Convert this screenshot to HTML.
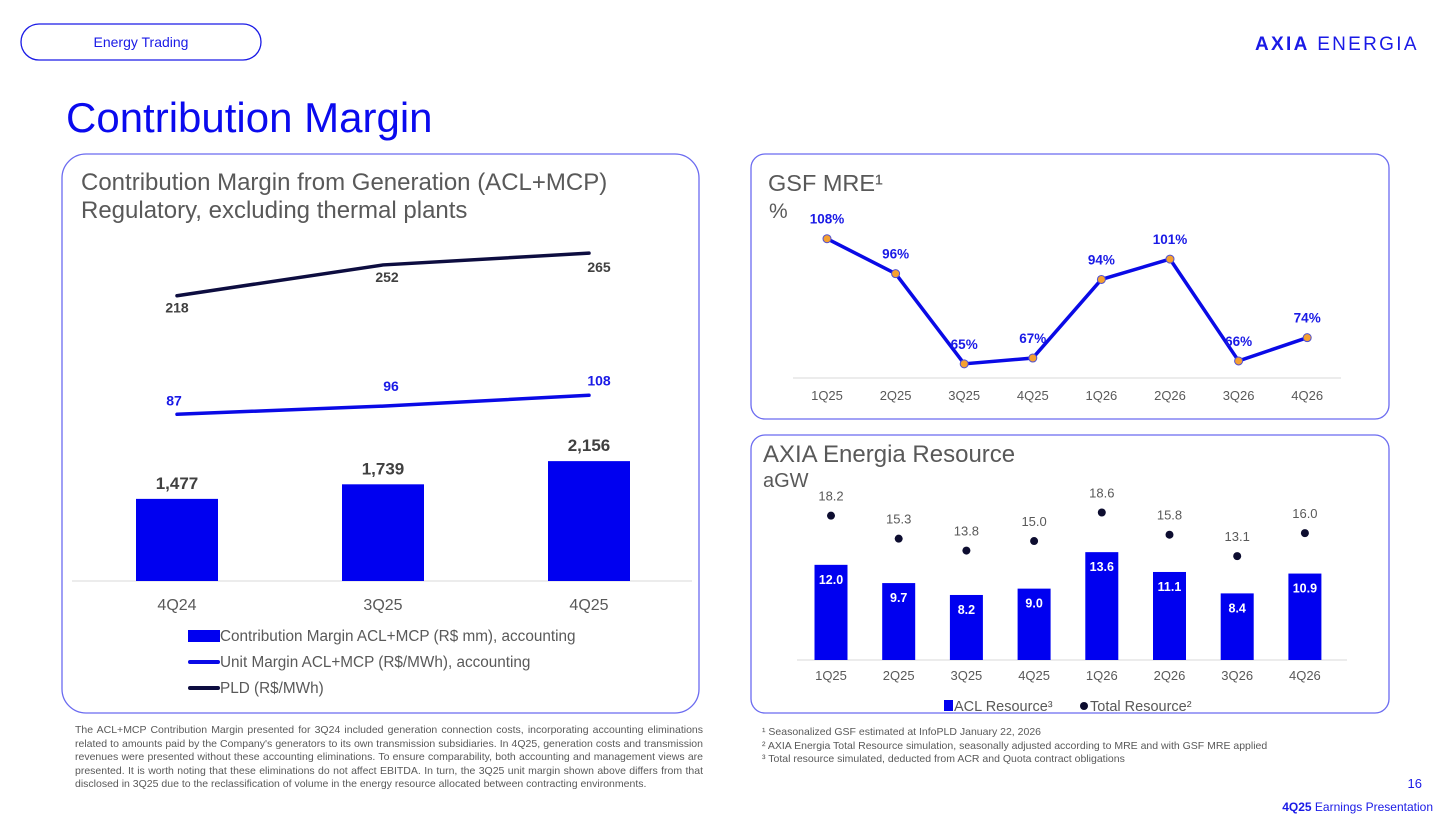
<!DOCTYPE html>
<html><head><meta charset="utf-8">
<style>
body{margin:0;width:1455px;height:816px;background:#fff;position:relative;overflow:hidden;font-family:"Liberation Sans",sans-serif;}
.abs{position:absolute;}
.fn{font-size:10.5px;color:#595959;line-height:13.6px;}
</style></head>
<body>
<svg class="abs" style="left:0;top:0" width="1455" height="816">
  <rect x="21" y="24" width="240" height="36" rx="18" fill="none" stroke="#1a1ae6" stroke-width="1.3"/>
  <text x="141" y="47" font-size="14" fill="#1a1ae6" text-anchor="middle">Energy Trading</text>
  <text x="1255" y="50" font-size="19" fill="#1a1ae6" letter-spacing="2.3"><tspan font-weight="bold">AXIA</tspan> ENERGIA</text>
  <text x="66" y="132" font-size="42" fill="#0a0aee">Contribution Margin</text>

  <rect x="62" y="154" width="637" height="559" rx="24" fill="none" stroke="#6b6bf0" stroke-width="1.3"/>
  <text x="81" y="190" font-size="24" fill="#595959">Contribution Margin from Generation (ACL+MCP)</text>
  <text x="81" y="218" font-size="24" fill="#595959">Regulatory, excluding thermal plants</text>
  <g id="left"></g>

  <rect x="751" y="154" width="638" height="265" rx="14" fill="none" stroke="#6b6bf0" stroke-width="1.3"/>
  <text x="768" y="191" font-size="23.5" fill="#595959">GSF MRE¹</text>
  <text x="769" y="218" font-size="21" fill="#595959">%</text>
  <g id="gsf"></g>

  <rect x="751" y="435" width="638" height="278" rx="14" fill="none" stroke="#6b6bf0" stroke-width="1.3"/>
  <text x="763" y="462" font-size="24" fill="#595959">AXIA Energia Resource</text>
  <text x="763" y="487" font-size="20" fill="#595959">aGW</text>
  <g id="res"></g>

  <text x="1422" y="788" font-size="13" fill="#1a1ae6" text-anchor="end">16</text>
  <text x="1433" y="811" font-size="12" fill="#1a1ae6" text-anchor="end"><tspan font-weight="bold">4Q25</tspan> Earnings Presentation</text>
</svg>
<div class="abs fn" style="left:75px;top:724px;width:628px;text-align:justify;">The ACL+MCP Contribution Margin presented for 3Q24 included generation connection costs, incorporating accounting eliminations related to amounts paid by the Company's generators to its own transmission subsidiaries. In 4Q25, generation costs and transmission revenues were presented without these accounting eliminations. To ensure comparability, both accounting and management views are presented. It is worth noting that these eliminations do not affect EBITDA. In turn, the 3Q25 unit margin shown above differs from that disclosed in 3Q25 due to the reclassification of volume in the energy resource allocated between contracting environments.</div>
<div class="abs fn" style="left:762px;top:726px;">¹ Seasonalized GSF estimated at InfoPLD January 22, 2026<br>² AXIA Energia Total Resource simulation, seasonally adjusted according to MRE and with GSF MRE applied<br>³ Total resource simulated, deducted from ACR and Quota contract obligations</div>
<script>
const NS='http://www.w3.org/2000/svg';
const cmCats=['4Q24','3Q25','4Q25'];
const cmBars=[1477,1739,2156];
const cmBarLabels=['1,477','1,739','2,156'];
const cmUnit=[87,96,108];
const cmPld=[218,252,265];
const gsfCats=['1Q25','2Q25','3Q25','4Q25','1Q26','2Q26','3Q26','4Q26'];
const gsfVals=[108,96,65,67,94,101,66,74];
const resCats=['1Q25','2Q25','3Q25','4Q25','1Q26','2Q26','3Q26','4Q26'];
const resAcl=[12.0,9.7,8.2,9.0,13.6,11.1,8.4,10.9];
const resTotal=[18.2,15.3,13.8,15.0,18.6,15.8,13.1,16.0];

function mk(parent,tag,attrs,text){const e=document.createElementNS(NS,tag);for(const k in attrs)e.setAttribute(k,attrs[k]);if(text!==undefined)e.textContent=text;parent.appendChild(e);return e;}

// Left chart
(function(){
 const g=document.getElementById('left');
 const x=i=>177+i*206; const yb=v=>581-v*0.0556; const yl=v=>493-v*0.905;
 let e=mk(g,'line',{x1:72,x2:692,y1:581,y2:581,stroke:'#d9d9d9'});
 
 cmBars.forEach((v,i)=>{
  e=mk(g,'rect',{x:x(i)-41,y:yb(v),width:82,height:581-yb(v),fill:'#0000f0'});
  
  e=mk(g,'text',{x:x(i),y:yb(v)-10,'font-size':17,'font-weight':'bold',fill:'#404040','text-anchor':'middle'},cmBarLabels[i]);
  
  e=mk(g,'text',{x:x(i),y:610,'font-size':16,fill:'#595959','text-anchor':'middle'},cmCats[i]);
  
 });
 e=mk(g,'polyline',{points:cmUnit.map((v,i)=>x(i)+','+yl(v)).join(' '),fill:'none',stroke:'#0a0ae6','stroke-width':3.5,'stroke-linecap':'round'});
 
 cmUnit.forEach((v,i)=>{
  const dx=[-3,8,10][i], dy=[-9,-15,-10][i];
  e=mk(g,'text',{x:x(i)+dx,y:yl(v)+dy,'font-size':14,'font-weight':'bold',fill:'#1a1ae6','text-anchor':'middle'},String(v));
  
 });
 e=mk(g,'polyline',{points:cmPld.map((v,i)=>x(i)+','+yl(v)).join(' '),fill:'none',stroke:'#0d0d40','stroke-width':3.5,'stroke-linecap':'round'});
 
 cmPld.forEach((v,i)=>{
  const dx=[0,4,10][i], dy=[17,17,19][i];
  e=mk(g,'text',{x:x(i)+dx,y:yl(v)+dy,'font-size':14,'font-weight':'bold',fill:'#404040','text-anchor':'middle'},String(v));
  
 });
 const leg=[['Contribution Margin ACL+MCP (R$ mm), accounting','rect','#0000f0'],['Unit Margin ACL+MCP (R$/MWh), accounting','line','#0a0ae6'],['PLD (R$/MWh)','line','#0d0d40']];
 leg.forEach((l,i)=>{
  const y=636+i*26;
  if(l[1]==='rect'){e=mk(g,'rect',{x:188,y:y-6,width:32,height:12,fill:l[2]});}
  else{e=mk(g,'line',{x1:190,x2:218,y1:y,y2:y,stroke:l[2],'stroke-width':4,'stroke-linecap':'round'});}
  
  e=mk(g,'text',{x:220,y:y+5,'font-size':15.3,fill:'#595959'},l[0]);
  
 });
})();

// GSF chart
(function(){
 const g=document.getElementById('gsf');
 const x=i=>827+i*68.6; const y=v=>553-v*2.91;
 let e=mk(g,'line',{x1:793,x2:1341,y1:378,y2:378,stroke:'#d9d9d9'});
 
 e=mk(g,'polyline',{points:gsfVals.map((v,i)=>x(i)+','+y(v)).join(' '),fill:'none',stroke:'#0a0ae6','stroke-width':3.5});
 
 gsfVals.forEach((v,i)=>{
  e=mk(g,'circle',{cx:x(i),cy:y(v),r:4,fill:'#f5a030',stroke:'#5050d0','stroke-width':1});
  
  e=mk(g,'text',{x:x(i),y:y(v)-15,'font-size':13.5,'font-weight':'bold',fill:'#1a1ae6','text-anchor':'middle'},v+'%');
  
  e=mk(g,'text',{x:x(i),y:400,'font-size':13,fill:'#595959','text-anchor':'middle'},gsfCats[i]);
  
 });
})();

// Resource chart
(function(){
 const g=document.getElementById('res');
 const x=i=>831+i*67.7; const y=v=>660-v*7.93;
 let e=mk(g,'line',{x1:797,x2:1347,y1:660,y2:660,stroke:'#d9d9d9'});
 
 resAcl.forEach((v,i)=>{
  e=mk(g,'rect',{x:x(i)-16.5,y:y(v),width:33,height:660-y(v),fill:'#0000f0'});
  
  e=mk(g,'text',{x:x(i),y:y(v)+19,'font-size':12.5,'font-weight':'bold',fill:'#fff','text-anchor':'middle'},v.toFixed(1));
  
  e=mk(g,'text',{x:x(i),y:680,'font-size':13,fill:'#595959','text-anchor':'middle'},resCats[i]);
  
 });
 resTotal.forEach((v,i)=>{
  e=mk(g,'circle',{cx:x(i),cy:y(v),r:4,fill:'#0d0d30'});
  
  e=mk(g,'text',{x:x(i),y:y(v)-15,'font-size':13,fill:'#595959','text-anchor':'middle'},v.toFixed(1));
  
 });
 e=mk(g,'rect',{x:944,y:700,width:9,height:11,fill:'#0000f0'});
 
 e=mk(g,'text',{x:954,y:711,'font-size':14.5,fill:'#595959'},'ACL Resource³');
 
 e=mk(g,'circle',{cx:1084,cy:706,r:4,fill:'#0d0d30'});
 
 e=mk(g,'text',{x:1090,y:711,'font-size':14.5,fill:'#595959'},'Total Resource²');
 
})();
</script>
</body></html>
